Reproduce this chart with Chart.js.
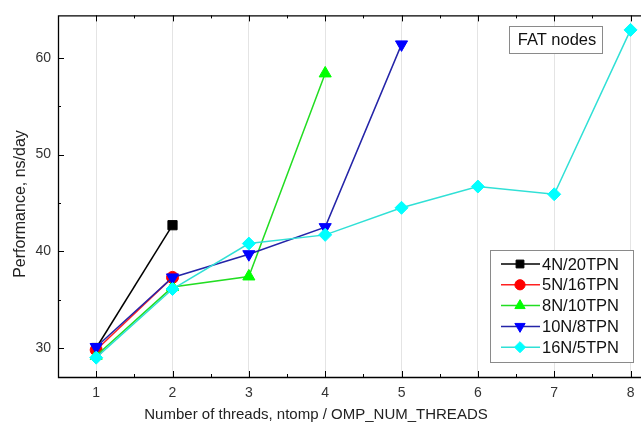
<!DOCTYPE html>
<html>
<head>
<meta charset="utf-8">
<script src="https://cdn.jsdelivr.net/npm/chart.js@4.4.0/dist/chart.umd.min.js"></script>
<style>
  html, body { margin: 0; padding: 0; background: #fff; overflow: hidden; }
  #wrap { width: 641px; height: 424px; overflow: hidden; }
</style>
</head>
<body>
<div id="wrap"><canvas id="perfChart" width="650" height="424"></canvas></div>
<script>
// Data
const threads = [1, 2, 3, 4, 5, 6, 7, 8];
const seriesLabels = ['4N/20TPN', '5N/16TPN', '8N/10TPN', '10N/8TPN', '16N/5TPN'];
const perf4N = [30.0, 42.7];
const perf5N = [29.8, 37.3];
const perf8N = [29.2, 36.3, 37.4, 58.4];
const perf10N = [30.1, 37.3, 39.7, 42.5, 61.4];
const perf16N = [29.0, 36.1, 40.8, 41.7, 44.5, 46.7, 45.9, 62.9];
const yMajorTicks = [30, 40, 50, 60];
const xTitle = 'Number of threads, ntomp / OMP_NUM_THREADS';
const yTitle = 'Performance, ns/day';
const boxLabel = 'FAT nodes';

const FONT = '"Liberation Sans", Arial, sans-serif';

function pts(values) {
    return values.map((v, i) => ({ x: threads[i], y: v }));
}

// Visual style per series
const styles = [
    { line: '#000000', fill: '#000000', point: 'rect', radius: 6.5, rot: 0 },
    { line: '#ff2020', fill: '#ff0000', point: 'circle', radius: 6, rot: 0 },
    { line: '#22dd22', fill: '#00ff00', point: 'triangle', radius: 7, rot: 0 },
    { line: '#2424a8', fill: '#0000ff', point: 'triangle', radius: 7, rot: 180 },
    { line: '#30e0d6', fill: '#00ffff', point: 'rectRot', radius: 6.5, rot: 0 }
];
const allSeries = [perf4N, perf5N, perf8N, perf10N, perf16N];

const datasets = allSeries.map((vals, i) => ({
    label: seriesLabels[i],
    data: pts(vals),
    borderColor: styles[i].line,
    borderWidth: 1.5,
    backgroundColor: styles[i].fill,
    pointBackgroundColor: styles[i].fill,
    pointBorderColor: styles[i].fill,
    pointBorderWidth: 1,
    pointStyle: styles[i].point,
    pointRadius: styles[i].radius,
    pointRotation: styles[i].rot,
    tension: 0,
    fill: false,
    clip: false,
    order: -i
}));

// Frame with inward ticks (Origin style); right side runs off the picture
const frameTicks = {
    id: 'frameTicks',
    afterDatasetsDraw(chart) {
        const { ctx, chartArea: a, scales } = chart;
        ctx.save();
        ctx.strokeStyle = '#000';
        ctx.lineWidth = 1.3;
        ctx.beginPath();
        ctx.moveTo(chart.width, a.top + 0.5);
        ctx.lineTo(a.left + 0.5, a.top + 0.5);
        ctx.lineTo(a.left + 0.5, a.bottom + 0.5);
        ctx.lineTo(chart.width, a.bottom + 0.5);
        ctx.stroke();
        ctx.lineWidth = 1;
        ctx.beginPath();
        for (let v = 1; v <= 8; v += 0.5) {
            const x = Math.round(scales.x.getPixelForValue(v)) + 0.5;
            const len = Number.isInteger(v) ? 6 : 3;
            ctx.moveTo(x, a.bottom); ctx.lineTo(x, a.bottom - len);
            ctx.moveTo(x, a.top); ctx.lineTo(x, a.top + len);
        }
        for (let v = 30; v <= 60; v += 5) {
            const y = Math.round(scales.y.getPixelForValue(v)) + 0.5;
            const len = v % 10 === 0 ? 6 : 3;
            ctx.moveTo(a.left, y); ctx.lineTo(a.left + len, y);
        }
        ctx.stroke();
        ctx.restore();
    }
};

// Axis titles, legend box and "FAT nodes" label
const innerLegend = {
    id: 'innerLegend',
    afterDraw(chart) {
        const { ctx } = chart;
        ctx.save();
        // axis titles
        ctx.fillStyle = '#222';
        ctx.font = '15px ' + FONT;
        ctx.textAlign = 'center';
        ctx.textBaseline = 'alphabetic';
        ctx.fillText(xTitle, 316, 419);
        ctx.save();
        ctx.translate(25, 204);
        ctx.rotate(-Math.PI / 2);
        ctx.font = '16px ' + FONT;
        ctx.fillText(yTitle, 0, 0);
        ctx.restore();

        // FAT nodes label
        ctx.fillStyle = '#fff';
        ctx.fillRect(509, 26, 93, 27);
        ctx.strokeStyle = '#8a8a8a';
        ctx.lineWidth = 1;
        ctx.strokeRect(509.5, 26.5, 93, 27);
        ctx.fillStyle = '#111';
        ctx.font = '16.5px ' + FONT;
        ctx.textAlign = 'center';
        ctx.textBaseline = 'middle';
        ctx.fillText(boxLabel, 557, 40);

        // Legend
        ctx.fillStyle = '#fff';
        ctx.fillRect(490, 250, 143, 112);
        ctx.strokeRect(490.5, 250.5, 143, 112);
        ctx.textAlign = 'left';
        chart.data.datasets.forEach((ds, i) => {
            const y = 264 + i * 20.8;
            ctx.strokeStyle = ds.borderColor;
            ctx.lineWidth = 1.5;
            ctx.beginPath();
            ctx.moveTo(501, y); ctx.lineTo(540, y);
            ctx.stroke();
            ctx.fillStyle = ds.pointBackgroundColor;
            ctx.strokeStyle = ds.pointBorderColor;
            ctx.lineWidth = 1;
            Chart.helpers.drawPoint(ctx, {
                pointStyle: ds.pointStyle,
                radius: ds.pointRadius * 0.85,
                rotation: ds.pointRotation,
                borderWidth: 1
            }, 520, y);
            ctx.fillStyle = '#111';
            ctx.font = '16.5px ' + FONT;
            ctx.fillText(ds.label, 542, y + 1);
        });
        ctx.restore();
    }
};

new Chart(document.getElementById('perfChart'), {
    type: 'line',
    data: { datasets },
    options: {
        responsive: false,
        animation: false,
        layout: { padding: { top: 15, right: 0, left: 0, bottom: 0 } },
        plugins: {
            legend: { display: false },
            tooltip: { enabled: false }
        },
        scales: {
            x: {
                type: 'linear',
                min: 0.5,
                max: 8.15,
                afterBuildTicks(scale) {
                    scale.ticks = threads.map(v => ({ value: v }));
                },
                afterFit(scale) {
                    scale.height = 47;
                },
                grid: { color: '#e4e4e4', drawTicks: false, lineWidth: 1 },
                border: { display: false },
                ticks: {
                    padding: 8,
                    color: '#333',
                    font: { family: FONT, size: 14 },
                    maxRotation: 0
                }
            },
            y: {
                type: 'linear',
                min: 27,
                max: 64.4,
                afterBuildTicks(scale) {
                    scale.ticks = yMajorTicks.map(v => ({ value: v }));
                },
                afterFit(scale) { scale.width = 58; },
                grid: { display: false, drawTicks: false },
                border: { display: false },
                ticks: {
                    padding: 7,
                    color: '#333',
                    font: { family: FONT, size: 14 }
                }
            }
        }
    },
    plugins: [frameTicks, innerLegend]
});
</script>
</body>
</html>
